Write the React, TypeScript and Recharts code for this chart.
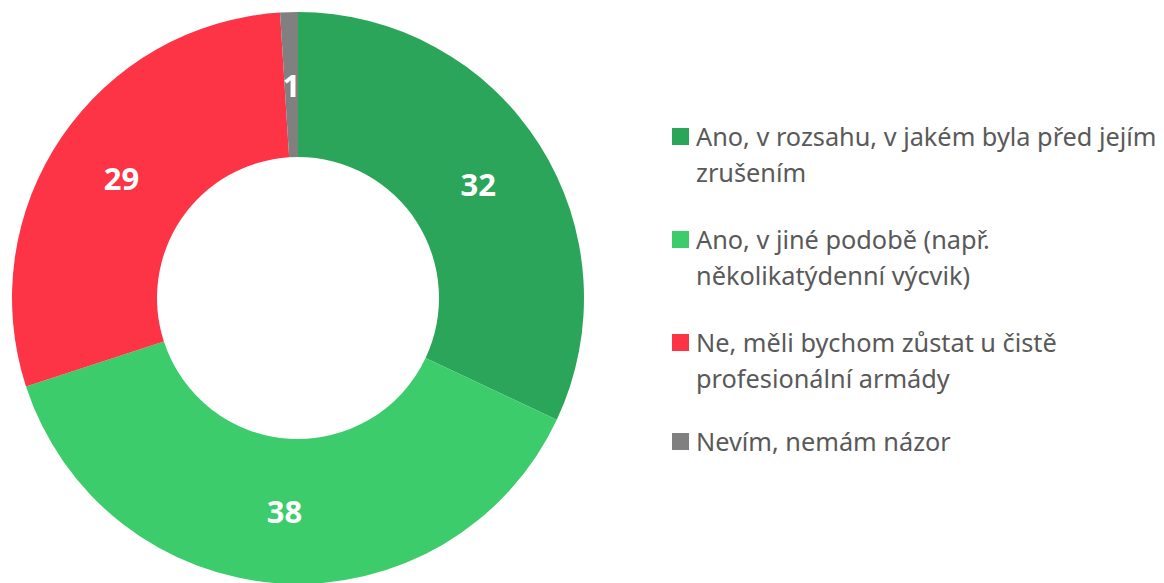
import React from 'react';
import { PieChart, Pie, Cell, Legend } from 'recharts';

const categories = [
  'Ano, v rozsahu, v jakém byla před jejím zrušením',
  'Ano, v jiné podobě (např. několikatýdenní výcvik)',
  'Ne, měli bychom zůstat u čistě profesionální armády',
  'Nevím, nemám názor',
];
const legendLines = [
  ['Ano, v rozsahu, v jakém byla před jejím', 'zrušením'],
  ['Ano, v jiné podobě (např.', 'několikatýdenní výcvik)'],
  ['Ne, měli bychom zůstat u čistě', 'profesionální armády'],
  ['Nevím, nemám názor'],
];
const values = [32, 38, 29, 1];
const colors = ['#2AA55A', '#3CCC6C', '#FC3446', '#808080'];

const data = categories.map((name, i) => ({ name, value: values[i] }));

const RAD = Math.PI / 180;
const renderLabel = (p: any) => {
  const r = (p.innerRadius + p.outerRadius) / 2;
  const x = p.cx + r * Math.cos(-p.midAngle * RAD);
  const y = p.cy + r * Math.sin(-p.midAngle * RAD);
  return (
    <text x={x} y={y} fill="#FFFFFF" textAnchor="middle" dominantBaseline="central"
      style={{ fontFamily: '"Open Sans", sans-serif', fontWeight: 700, fontSize: 31 }}>
      {p.value}
    </text>
  );
};

const renderLegend = () => (
  <div style={{ fontFamily: '"Noto Sans", sans-serif', fontSize: 25.3, color: '#595959' }}>
    {legendLines.map((lines, i) => (
      <div key={i} style={{ display: 'flex', alignItems: 'flex-start', marginBottom: i < 2 ? 31 : 27 }}>
        <div style={{ width: 17, height: 17, background: colors[i], marginTop: 10, marginRight: 7, flexShrink: 0 }} />
        <div style={{ lineHeight: '36px' }}>
          {lines.map((l, j) => <div key={j} style={{ whiteSpace: 'nowrap' }}>{l}</div>)}
        </div>
      </div>
    ))}
  </div>
);

export default function App() {
  return (
    <div style={{ position: 'absolute', left: 0, top: 0, width: 1164, height: 583, background: '#fff' }}>
      <PieChart width={1164} height={583} margin={{ top: 0, right: 0, bottom: 0, left: 0 }}>
        <Pie data={data} dataKey="value" nameKey="name" cx={298} cy={298}
          innerRadius={141} outerRadius={286} startAngle={90} endAngle={-270}
          stroke="none" label={renderLabel} labelLine={false} isAnimationActive={false}>
          {data.map((d, i) => <Cell key={i} fill={colors[i]} />)}
        </Pie>
        <Legend content={renderLegend} wrapperStyle={{ position: 'absolute', left: 672, top: 118, width: 492 }} />
      </PieChart>
    </div>
  );
}
